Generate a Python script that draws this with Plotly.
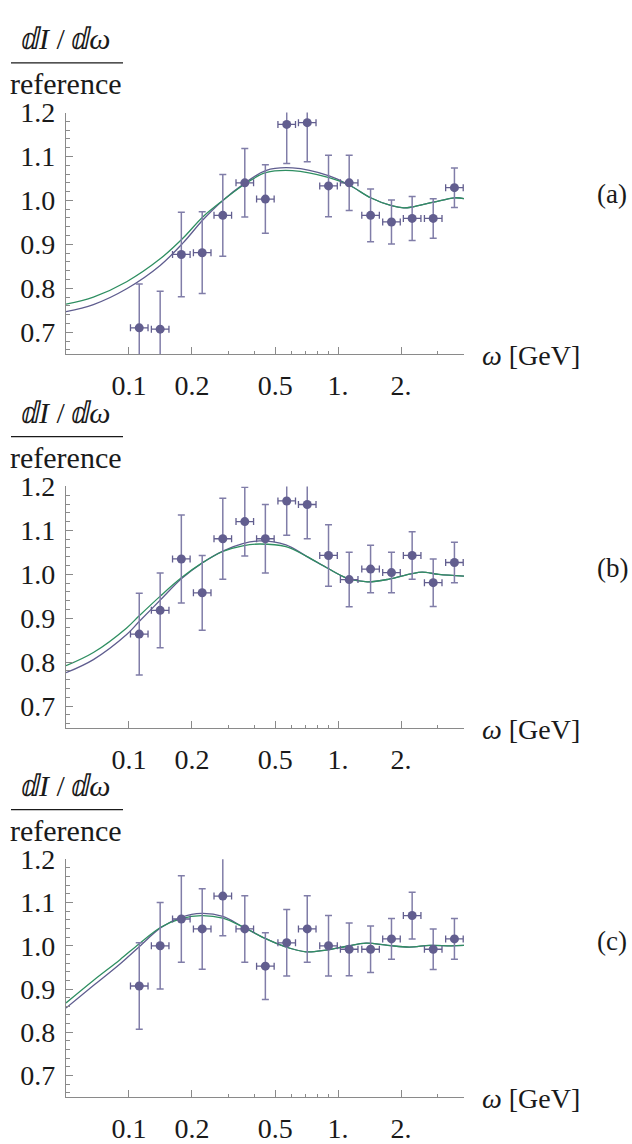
import plotly.graph_objects as go

W, H = 632, 1144

# ---------------- data ----------------
omega_pts = [0.112, 0.141, 0.178, 0.224, 0.281, 0.358, 0.449, 0.568,
             0.712, 0.900, 1.13, 1.43, 1.80, 2.26, 2.85, 3.60]
bin_halfwidth_log10 = 0.042

ratio_a = [0.710, 0.707, 0.877, 0.881, 0.966, 1.040, 1.003, 1.173,
           1.177, 1.033, 1.040, 0.966, 0.951, 0.959, 0.959, 1.029]
err_a = [0.100, 0.086, 0.096, 0.093, 0.093, 0.078, 0.078, 0.089,
         0.089, 0.070, 0.063, 0.060, 0.050, 0.050, 0.045, 0.045]

ratio_b = [0.864, 0.918, 1.035, 0.958, 1.081, 1.120, 1.081, 1.167,
           1.159, 1.043, 0.988, 1.012, 1.004, 1.043, 0.981, 1.027]
err_b = [0.093, 0.085, 0.100, 0.085, 0.092, 0.078, 0.078, 0.078,
         0.078, 0.070, 0.062, 0.054, 0.046, 0.054, 0.054, 0.046]

ratio_c = [0.907, 1.000, 1.062, 1.039, 1.115, 1.039, 0.953, 1.007,
           1.039, 1.000, 0.992, 0.992, 1.016, 1.070, 0.992, 1.016]
err_c = [0.100, 0.100, 0.100, 0.093, 0.092, 0.077, 0.077, 0.077,
         0.077, 0.070, 0.061, 0.054, 0.047, 0.054, 0.047, 0.047]

curve_x_a = [0.050, 0.0676, 0.0975, 0.141, 0.182, 0.226, 0.281, 0.360, 0.451,
             0.605, 0.906, 1.14, 1.43, 1.80, 2.06, 2.26, 2.86, 3.61, 4.0]
curve_green_a = [0.764, 0.780, 0.815, 0.867, 0.915, 0.963, 1.000, 1.038, 1.063,
                 1.068, 1.052, 1.034, 1.006, 0.988, 0.983, 0.985, 0.996, 1.006, 1.004]
curve_purple_a = [0.747, 0.763, 0.799, 0.852, 0.904, 0.956, 1.000, 1.040, 1.068,
                  1.074, 1.056, 1.034, 1.006, 0.988, 0.983, 0.985, 0.996, 1.006, 1.004]

curve_x_b = [0.050, 0.0676, 0.0975, 0.1116, 0.1416, 0.178, 0.224, 0.281, 0.350, 0.421,
             0.563, 0.707, 0.883, 1.12, 1.38, 1.75, 2.23, 2.52, 3.03, 4.0]
curve_green_b = [0.792, 0.822, 0.878, 0.905, 0.951, 0.992, 1.026, 1.052, 1.065, 1.069,
                 1.063, 1.041, 1.015, 0.990, 0.983, 0.989, 1.001, 1.005, 1.000, 0.996]
curve_purple_b = [0.776, 0.806, 0.863, 0.892, 0.942, 0.990, 1.026, 1.053, 1.070, 1.076,
                  1.067, 1.041, 1.015, 0.990, 0.983, 0.989, 1.001, 1.005, 1.000, 0.996]

curve_x_c = [0.050, 0.0676, 0.0906, 0.112, 0.142, 0.178, 0.222, 0.281, 0.350, 0.448,
             0.557, 0.702, 0.873, 1.10, 1.36, 1.73, 2.19, 2.75, 3.47, 4.0]
curve_green_c = [0.868, 0.920, 0.968, 1.005, 1.043, 1.063, 1.070, 1.064, 1.044, 1.017,
                 0.998, 0.986, 0.990, 0.999, 1.006, 1.001, 0.997, 1.001, 1.000, 1.001]
curve_purple_c = [0.856, 0.908, 0.958, 0.998, 1.042, 1.066, 1.075, 1.068, 1.044, 1.017,
                  0.998, 0.986, 0.990, 0.999, 1.006, 1.001, 0.997, 1.001, 1.000, 1.001]

panel_tags = ["(a)", "(b)", "(c)"]
x_tickvals = [0.1, 0.2, 0.5, 1, 2]
x_ticktext = ["0.1", "0.2", "0.5", "1.", "2."]
x_minorvals = [0.3, 0.4, 0.6, 0.7, 0.8, 0.9, 3]
y_tickvals = [0.7, 0.8, 0.9, 1.0, 1.1, 1.2]
y_ticktext = ["0.7", "0.8", "0.9", "1.0", "1.1", "1.2"]

# ---------------- style ----------------
FONT = "Liberation Serif, Times New Roman, serif"
TXT = "#1a1a1a"
AXC = "#8a8a8a"
MK = "#625e8f"
ERRC = "#807da8"
GREEN = "#2f8f62"
PURPLE = "#5f5d8f"
FS = 28
FS_LABEL = 30

# pixel geometry of the panels (top, bottom)
x_left_px, x_right_px = 66, 464
panels_px = [(100, 347.7), (483.3, 731.0), (865.5, 1109.3)]


def px_x(p):
    return p / W


def px_y(p):
    return 1 - p / H


fig = go.Figure()

datasets = [
    (ratio_a, err_a, curve_x_a, curve_green_a, curve_purple_a),
    (ratio_b, err_b, curve_x_b, curve_green_b, curve_purple_b),
    (ratio_c, err_c, curve_x_c, curve_green_c, curve_purple_c),
]

f_hi = 10 ** bin_halfwidth_log10 - 1
f_lo = 1 - 10 ** (-bin_halfwidth_log10)
ex_plus = [x * f_hi for x in omega_pts]
ex_minus = [x * f_lo for x in omega_pts]

layout_axes = {}
annotations = []
shapes = []

for i, (ratio, err, cx, cg, cp) in enumerate(datasets):
    n = "" if i == 0 else str(i + 1)
    xa, ya = "x" + n, "y" + n
    fig.add_trace(go.Scatter(x=cx, y=cp, mode="lines", xaxis=xa, yaxis=ya,
                             line=dict(color=PURPLE, width=1.3, shape="spline", smoothing=1.0),
                             showlegend=False, hoverinfo="skip"))
    fig.add_trace(go.Scatter(x=cx, y=cg, mode="lines", xaxis=xa, yaxis=ya,
                             line=dict(color=GREEN, width=1.3, shape="spline", smoothing=1.0),
                             showlegend=False, hoverinfo="skip"))
    fig.add_trace(go.Scatter(
        x=omega_pts, y=ratio, mode="markers", xaxis=xa, yaxis=ya,
        marker=dict(color=MK, size=9),
        error_y=dict(type="data", array=err, color=ERRC, thickness=1.5, width=3.5),
        error_x=dict(type="data", symmetric=False, array=ex_plus, arrayminus=ex_minus,
                     color=MK, thickness=1.3, width=3.5),
        showlegend=False, cliponaxis=True))

    top, bot = panels_px[i]
    layout_axes["xaxis" + n] = dict(
        type="log", range=[-1.30103, 0.60206],
        domain=[px_x(x_left_px), px_x(x_right_px)], anchor=ya,
        showline=True, linecolor=AXC, linewidth=1.2, mirror=False,
        ticks="inside", ticklen=7, tickcolor=AXC, tickwidth=1,
        tickmode="array", tickvals=x_tickvals, ticktext=x_ticktext,
        tickfont=dict(family=FONT, size=FS, color=TXT),
        ticklabelstandoff=6,
        minor=dict(tickmode="array", tickvals=x_minorvals, ticks="inside",
                   ticklen=3.5, tickcolor=AXC, tickwidth=1, showgrid=False),
        showgrid=False, zeroline=False, fixedrange=True)
    layout_axes["yaxis" + n] = dict(
        range=[0.65, 1.2], domain=[px_y(bot), px_y(top)], anchor=xa,
        showline=True, linecolor=AXC, linewidth=1.2,
        ticks="inside", ticklen=7, tickcolor=AXC, tickwidth=1,
        tickmode="array", tickvals=y_tickvals, ticktext=y_ticktext,
        tickfont=dict(family=FONT, size=FS, color=TXT),
        ticklabelstandoff=4,
        minor=dict(dtick=0.02, tick0=0.0, ticks="inside", ticklen=3.5,
                   tickcolor=AXC, tickwidth=1, showgrid=False),
        showgrid=False, zeroline=False, fixedrange=True)

    # y-axis label as fraction
    annotations.append(dict(x=px_x(66), y=px_y(top - 76), xref="paper", yref="paper",
                            text="ⅆ<i>I</i> / ⅆ<i>ω</i>", showarrow=False,
                            xanchor="center", yanchor="middle",
                            font=dict(family=FONT, size=FS_LABEL, color=TXT)))
    shapes.append(dict(type="line", xref="paper", yref="paper",
                       x0=px_x(11), x1=px_x(123), y0=px_y(top - 51), y1=px_y(top - 51),
                       line=dict(color=TXT, width=1.3)))
    annotations.append(dict(x=px_x(66), y=px_y(top - 30), xref="paper", yref="paper",
                            text="reference", showarrow=False,
                            xanchor="center", yanchor="middle",
                            font=dict(family=FONT, size=FS_LABEL, color=TXT)))
    # x-axis label
    annotations.append(dict(x=px_x(480), y=px_y(bot + 1), xref="paper", yref="paper",
                            text="<i>ω</i> [GeV]", showarrow=False,
                            xanchor="left", yanchor="middle",
                            font=dict(family=FONT, size=FS, color=TXT)))
    # panel tag
    annotations.append(dict(x=px_x(612), y=px_y(top + 84), xref="paper", yref="paper",
                            text=panel_tags[i], showarrow=False,
                            xanchor="center", yanchor="middle",
                            font=dict(family=FONT, size=FS - 1, color=TXT)))

fig.update_layout(width=W, height=H, margin=dict(l=0, r=0, t=0, b=0),
                  paper_bgcolor="white", plot_bgcolor="white",
                  annotations=annotations, shapes=shapes, **layout_axes)

fig.write_html("out.html")
